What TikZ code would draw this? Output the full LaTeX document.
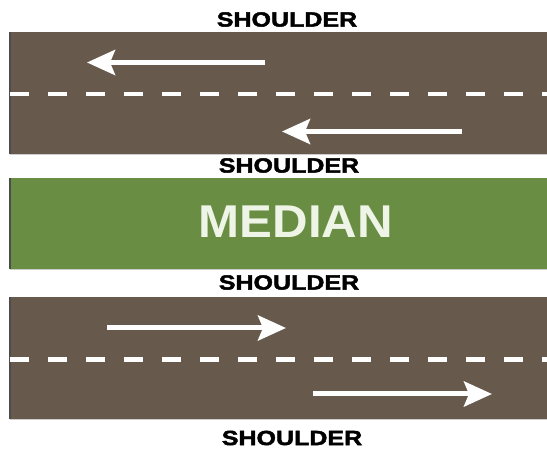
\documentclass[tikz,border=0pt]{standalone}
\usepackage{fontspec}
\usetikzlibrary{positioning, arrows.meta}
\newfontfamily\shoulderfont[FakeStretch=1.22, FakeBold=2.2]{Liberation Sans}
\newfontfamily\medianfont[FakeStretch=1.07]{Liberation Sans}
\definecolor{asphalt}{HTML}{675A4C}
\definecolor{grass}{HTML}{6A8D44}
\definecolor{grasstext}{HTML}{EEF4E6}

\begin{document}
\begin{tikzpicture}[
    x=1pt, y=-1pt,
    road/.style={
        fill=asphalt,
        minimum width=537pt,
        minimum height=122pt,
        inner sep=0pt,
        outer sep=0pt
    },
    median/.style={
        fill=grass,
        minimum width=537pt,
        minimum height=91pt,
        inner sep=0pt,
        outer sep=0pt
    },
    shoulder/.style={
        font=\shoulderfont\bfseries\fontsize{20.5}{21}\selectfont,
        inner sep=0pt
    },
    lanemark/.style={
        draw=white,
        line width=4.5pt,
        dash pattern=on 19pt off 19pt
    },
    travel/.style={
        draw=white,
        line width=5pt,
        -{Stealth[length=28pt, width=25pt, inset=5pt]}
    }
]
\useasboundingbox (0,0) rectangle (547,449);

%% ── Carriageways ─────────────────────────────────────────────────────────────
\node[road] (north) at (278.5,93) {};
\node[road] (south) at (278.5,358.5) {};
\draw[black!70, line width=1.2pt] (north.north west) -- (north.south west);
\draw[black!70, line width=1.2pt] (south.north west) -- (south.south west);
\draw[black!20, line width=1pt] ([yshift=-0.5pt]north.south west) -- ([yshift=-0.5pt]north.south east);
\draw[black!20, line width=1pt] ([yshift=-0.5pt]south.south west) -- ([yshift=-0.5pt]south.south east);

%% ── Lane lines ───────────────────────────────────────────────────────────────
\draw[lanemark] ([yshift=-1pt]north.west) -- ([yshift=-1pt]north.east);
\draw[lanemark] ([yshift=-1pt]south.west) -- ([yshift=-1pt]south.east);

%% ── Median ───────────────────────────────────────────────────────────────────
\node[median] (median) at (278.5,223.5) {};
\draw[black!70, line width=1.2pt] (median.north west) -- (median.south west);
\draw[black!20, line width=1pt] ([yshift=-0.5pt]median.south west) -- ([yshift=-0.5pt]median.south east);
\node[text=grasstext, inner sep=0pt,
      font=\medianfont\bfseries\fontsize{46}{46}\selectfont]
    (mlabel) at (296,221.5) {MEDIAN};

%% ── Direction of travel ──────────────────────────────────────────────────────
\draw[travel] (265,62.5) -- (87,62.5);
\draw[travel] (462,131.5) -- (282,131.5);
\draw[travel] (107,328) -- (286,328);
\draw[travel] (313,394) -- (492,394);

%% ── Shoulders ────────────────────────────────────────────────────────────────
\node[shoulder] (s1) at (287,19.5) {SHOULDER};
\node[shoulder] (s2) at (289,165.5) {SHOULDER};
\node[shoulder] (s3) at (289,282.5) {SHOULDER};
\node[shoulder] (s4) at (292,438) {SHOULDER};

\end{tikzpicture}
\end{document}
